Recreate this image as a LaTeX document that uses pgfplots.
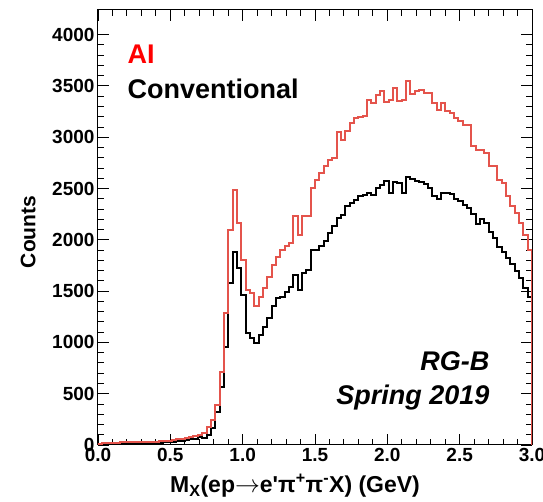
\documentclass[border=0pt]{standalone}
\usepackage{fontspec}
\setmainfont{Liberation Sans}
\usepackage{pgfplots}
\pgfplotsset{compat=1.18}
\usepackage{pgfplotstable}
\definecolor{aired}{RGB}{228,84,76}

% bin left edge, counts (0.03 GeV bins); closing rows bring the outline down to 0
\pgfplotstableread{
x    y
0.00 0
0.00 10
0.03 15
0.06 18
0.09 20
0.12 22
0.15 25
0.18 28
0.21 30
0.24 30
0.27 28
0.30 30
0.33 28
0.36 30
0.39 32
0.42 35
0.45 38
0.48 40
0.51 45
0.54 55
0.57 60
0.60 70
0.63 80
0.66 90
0.69 100
0.72 120
0.75 175
0.78 240
0.81 390
0.84 715
0.87 1290
0.90 2097
0.93 2490
0.96 2163
0.99 1805
1.02 1512
1.05 1480
1.08 1350
1.11 1447
1.14 1528
1.17 1642
1.20 1756
1.23 1837
1.26 1902
1.29 1940
1.32 1970
1.35 2228
1.38 2049
1.41 2228
1.44 2228
1.47 2504
1.50 2585
1.53 2650
1.56 2715
1.59 2780
1.62 2797
1.65 3047
1.68 2976
1.71 3057
1.74 3138
1.77 3187
1.80 3195
1.83 3203
1.86 3366
1.89 3330
1.92 3415
1.95 3447
1.98 3340
2.01 3360
2.04 3480
2.07 3350
2.10 3366
2.13 3545
2.16 3420
2.19 3447
2.22 3463
2.25 3431
2.28 3431
2.31 3333
2.34 3268
2.37 3333
2.40 3252
2.43 3236
2.46 3187
2.49 3154
2.52 3122
2.55 3122
2.58 2911
2.61 2878
2.64 2878
2.67 2846
2.70 2715
2.73 2715
2.76 2585
2.79 2553
2.82 2423
2.85 2325
2.88 2260
2.91 2163
2.94 2049
2.97 1902
3.00 1902
3.00 0
}\ai

\pgfplotstableread{
x    y
0.00 0
0.00 5
0.03 8
0.06 10
0.09 12
0.12 15
0.15 15
0.18 18
0.21 20
0.24 20
0.27 18
0.30 20
0.33 18
0.36 20
0.39 22
0.42 22
0.45 25
0.48 25
0.51 28
0.54 35
0.57 40
0.60 45
0.63 55
0.66 60
0.69 75
0.72 70
0.75 100
0.78 165
0.81 320
0.84 569
0.87 960
0.90 1578
0.93 1886
0.96 1724
0.99 1464
1.02 1089
1.05 1040
1.08 992
1.11 1073
1.14 1154
1.17 1236
1.20 1350
1.23 1431
1.26 1447
1.29 1490
1.32 1540
1.35 1658
1.38 1512
1.41 1675
1.44 1707
1.47 1902
1.50 1902
1.53 1935
1.56 1984
1.59 2065
1.62 2130
1.65 2211
1.68 2244
1.71 2325
1.74 2358
1.77 2390
1.80 2423
1.83 2439
1.86 2455
1.89 2440
1.92 2504
1.95 2537
1.98 2569
2.01 2460
2.04 2560
2.07 2555
2.10 2460
2.13 2610
2.16 2590
2.19 2575
2.22 2560
2.25 2540
2.28 2505
2.31 2430
2.34 2400
2.37 2455
2.40 2455
2.43 2445
2.46 2400
2.49 2375
2.52 2340
2.55 2310
2.58 2250
2.61 2150
2.64 2200
2.67 2160
2.70 2080
2.73 2020
2.76 1930
2.79 1880
2.82 1820
2.85 1760
2.88 1700
2.91 1630
2.94 1530
2.97 1440
3.00 1440
3.00 0
}\conv

\begin{document}
\begin{tikzpicture}
\path[use as bounding box] (-98pt,-57pt) rectangle (445pt,445pt);
\begin{axis}[at={(0,0)}, anchor=south west,
  width=434pt, height=435pt, scale only axis,
  xmin=0, xmax=3, ymin=0, ymax=4240,
  xtick={0,0.5,1,1.5,2,2.5,3}, ytick={0,500,1000,1500,2000,2500,3000,3500,4000},
  minor x tick num=4, minor y tick num=4,
  tick align=inside, xtick pos=both, ytick pos=both,
  xticklabel pos=bottom, yticklabel pos=left,
  major tick length=11pt, minor tick length=6pt,
  axis line style={line width=1pt},
  every tick/.style={black, line width=0.9pt},
  /pgf/number format/assume math mode=true,
  ticklabel style={font=\fontsize{19}{19}\selectfont\bfseries},
  xticklabel style={/pgf/number format/.cd, fixed, fixed zerofill, precision=1},
  yticklabel style={/pgf/number format/.cd, set thousands separator={}},
  scaled y ticks=false, scaled x ticks=false,
  xlabel={M\textsubscript{X}(ep$\rightarrow$e\textquotesingle π\textsuperscript{+}π\textsuperscript{-}X) (GeV)},
  xlabel style={font=\fontsize{23}{23}\selectfont\bfseries,
    at={(axis description cs:0.454,-0.094)}, anchor=center},
  ylabel={Counts},
  ylabel style={font=\fontsize{21}{21}\selectfont\bfseries,
    at={(axis description cs:-0.161,0.49)}, anchor=center},
]
\addplot[black, line width=2pt, const plot mark left] table {\conv};
\addplot[aired, line width=2pt, const plot mark left] table {\ai};

\node[anchor=base west, text=red, font=\fontsize{27}{27}\selectfont\bfseries]
  at (axis description cs:0.06,0.878) {AI};
\node[anchor=base west, font=\fontsize{27}{27}\selectfont\bfseries]
  at (axis description cs:0.06,0.797) {Conventional};
\node[anchor=base east, font=\fontsize{27}{27}\selectfont\bfseries\itshape]
  at (axis description cs:0.91,0.172) {RG-B};
\node[anchor=base east, font=\fontsize{27}{27}\selectfont\bfseries\itshape]
  at (axis description cs:0.91,0.094) {Spring 2019};
\end{axis}
\end{tikzpicture}
\end{document}
